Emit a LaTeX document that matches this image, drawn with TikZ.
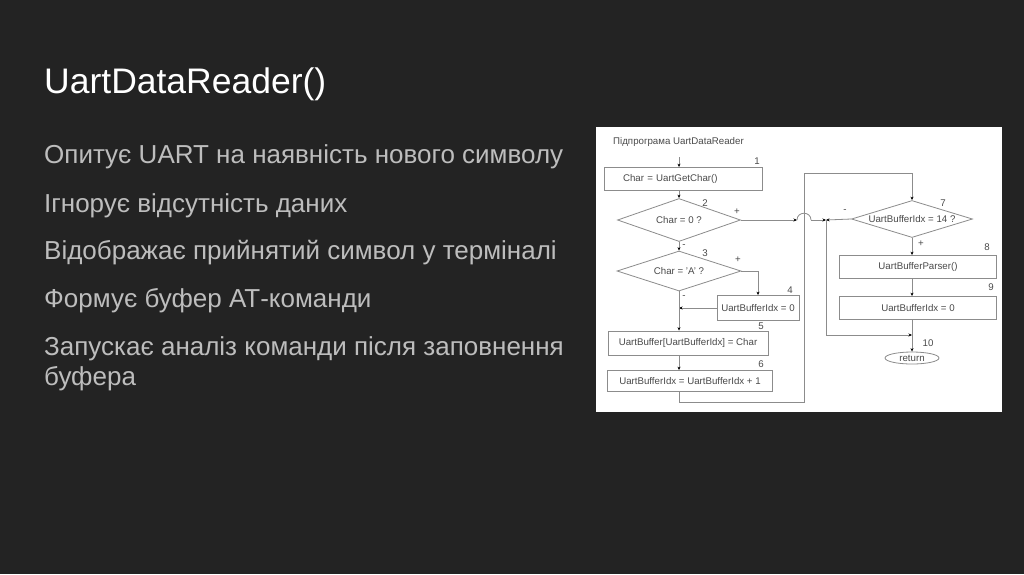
\documentclass[tikz,border=0pt]{standalone}
\usepackage{fontspec}
\setmainfont{Liberation Sans}
\usetikzlibrary{arrows.meta, shapes.geometric, positioning}
\definecolor{slideBg}{HTML}{232323}
\definecolor{slideText}{HTML}{BDBDBD}
\definecolor{flowLine}{HTML}{8C8C8C}
\definecolor{flowText}{HTML}{4A4A4A}
\tikzset{
  % one unit = one pixel of the slide, y running down
  every picture/.append style = {x=1pt, y=-1pt},
  bullet/.style   = {anchor=base west, inner sep=0, text=slideText,
                     font=\fontsize{26}{30}\selectfont},
  flowfont/.style = {text=flowText, font=\fontsize{9.7}{11}\selectfont},
  flowbox/.style  = {flowfont, draw=flowLine, line width=0.8pt, fill=white,
                     inner sep=0, minimum height=23pt},
  decision/.style = {flowfont, diamond, shape aspect=3, draw=flowLine,
                     line width=0.8pt, fill=white, inner sep=0},
  terminal/.style = {flowfont, ellipse, draw=flowLine, line width=0.8pt,
                     fill=white, inner sep=0},
  numlbl/.style   = {flowfont, inner sep=0},
  flowline/.style = {draw=flowLine, line width=0.8pt},
  flow/.style     = {flowline, -{Stealth[length=3.5pt, width=3pt, color=black]}},
}

\begin{document}
\begin{tikzpicture}
  \fill[slideBg] (0,0) rectangle (1024,574);
  \useasboundingbox (0,0) rectangle (1024,574);

  % slide text
  \node[anchor=base west, inner sep=0, text=white,
        font=\fontsize{35.5}{42}\selectfont] (title) at (44,93) {UartDataReader()};
  \foreach \i/\yy/\txt in {1/163/Опитує UART на наявність нового символу,
      2/212/Ігнорує відсутність даних,
      3/259/Відображає прийнятий символ у терміналі,
      4/307/Формує буфер АТ-команди,
      5/355/Запускає аналіз команди після заповнення,
      6/385/буфера}
    \node[bullet] (b\i) at (44,\yy) {\txt};

  % flowchart panel
  \fill[white] (596,127) rectangle (1002,412);
  \node[numlbl, anchor=west] (head) at (613,142) {Підпрограма UartDataReader};

  \node[flowbox, minimum width=158pt, text width=120pt, align=left] (getch)
    at (683,179) {Char = UartGetChar()};
  \node[decision, minimum width=123pt, minimum height=43pt] (isnull) at (679,220) {Char = 0 ?};
  \node[decision, minimum width=124pt, minimum height=40pt] (isA) at (679,271) {Char = 'A' ?};
  \node[flowbox, minimum width=82pt, minimum height=25pt] (idxzero) at (758,308) {UartBufferIdx = 0};
  \node[flowbox, minimum width=160pt, minimum height=24pt] (store) at (688,343) {UartBuffer[UartBufferIdx] = Char};
  \node[flowbox, minimum width=165pt, minimum height=21pt] (incr) at (690,381) {UartBufferIdx = UartBufferIdx + 1};
  \node[decision, minimum width=121pt, minimum height=37pt] (isfull) at (912,219) {UartBufferIdx = 14 ?};
  \node[flowbox, minimum width=157pt] (parse) at (918,267) {UartBufferParser()};
  \node[flowbox, minimum width=157pt] (reset) at (918,308) {UartBufferIdx = 0};
  \node[terminal, minimum width=54pt, minimum height=12pt] (ret) at (912,358) {return};

  % block numbers and branch signs
  \foreach \n/\xx/\yy in {1/757/161, 2/705/203, 3/705/253, 4/790/290, 5/761/326,
      6/761/364, 7/943/203, 8/987/247, 9/991/287, 10/928/343}
    \node[numlbl] (k\n) at (\xx,\yy) {\n};
  \node[numlbl] (p2) at (737,212) {+};
  \node[numlbl] (p3) at (738,260) {+};
  \node[numlbl] (p7) at (921,244) {+};
  \node[numlbl] (m2) at (684,246) {-};
  \node[numlbl] (m3) at (684,297) {-};
  \node[numlbl] (m7) at (845,211) {-};

  % connectors
  \coordinate (entry) at (679,157);
  \coordinate (loopbot) at (804,402);
  \coordinate (looptop) at (804,173);
  \coordinate (bridgeL) at (797,220);
  \coordinate (bridgeR) at (811,220);
  \coordinate (jn) at (826,220);
  \coordinate (jnbot) at (826,335);
  \draw[flow] (entry) -- (entry |- getch.north);
  \draw[flow] (getch.south -| isnull) -- (isnull.north);
  \draw[flow] (isnull.south) -- (isA.north);
  \draw[flow] (isA.east) -| (idxzero.north);
  \draw[flow] (idxzero.west) -- (idxzero.west -| isA.south);
  \draw[flow] (isA.south) -- (isA.south |- store.north);
  \draw[flow] (store.south -| isA) -- (incr.north -| isA);
  \draw[flow] (incr.south -| isA) |- (loopbot) -- (looptop) -| (isfull.north);
  % '+' of block 2 jumps over the loop line
  \draw[flow] (isnull.east) -- (bridgeL);
  \draw[flowline] (bridgeL) .. controls (797,211) and (811,211) .. (bridgeR);
  \draw[flow] (bridgeR) -- (jn);
  \draw[flow] (isfull.west) -- (jn);
  \draw[flow] (jn) -- (jnbot) -- (jnbot -| isfull);
  \draw[flow] (isfull.south) -- (isfull.south |- parse.north);
  \draw[flow] (parse.south -| isfull) -- (reset.north -| isfull);
  \draw[flow] (reset.south -| isfull) -- (ret.north);
\end{tikzpicture}
\end{document}
